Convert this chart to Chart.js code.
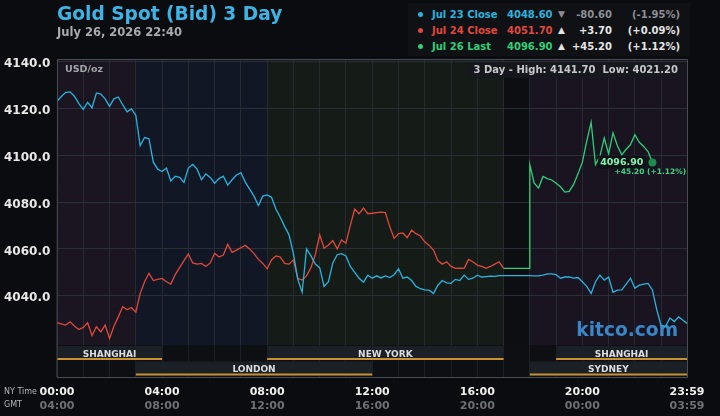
<!DOCTYPE html>
<html>
<head>
<meta charset="utf-8">
<script src="https://cdn.jsdelivr.net/npm/chart.js@4"></script>
<style>
  html, body { margin: 0; padding: 0; background: #0b0c0f; }
  body { width: 720px; height: 416px; position: relative; overflow: hidden; font-family: "DejaVu Sans", sans-serif; }
  #chart { position: absolute; left: 0; top: 0; }
  .txt { position: absolute; line-height: 1; white-space: nowrap; font-weight: bold; }
  .title { left: 57px; top: 5px; font-size: 18.6px; color: #3cb4e6; }
  .stamp { left: 57px; top: 27px; font-size: 11.5px; color: #a9abae; }
  .legendbox { position: absolute; left: 408px; top: 3px; width: 282px; height: 53px; background: #0f1114; }
  .dot { position: absolute; width: 5px; height: 5px; border-radius: 50%; }
  .small { position: absolute; font-size: 8px; color: #b4b6ba; line-height: 1; }
</style>
</head>
<body>
<canvas id="chart" width="720" height="416"></canvas>
<div class="txt title">Gold Spot (Bid) 3 Day</div>
<div class="txt stamp">July 26, 2026 22:40</div>
<div class="legendbox"></div>
<div id="legend"></div>
<div class="small" style="left:4px; top:388px;">NY Time</div>
<div class="small" style="left:4px; top:401px;">GMT</div>
<script>
// minutes after midnight NY time, one value every 10 minutes
const stepMin = 10;

// Jul 23 (blue), 00:00 .. 23:59
const jul23 = [
  4123.0, 4125.0, 4126.8, 4127.0, 4125.0, 4122.0, 4119.5, 4122.5, 4120.2, 4126.5,
  4126.0, 4124.0, 4120.8, 4124.0, 4124.8, 4121.5, 4118.5, 4119.7, 4117.0, 4104.0,
  4107.5, 4107.0, 4097.0, 4094.0, 4093.0, 4094.5, 4089.0, 4091.0, 4090.5, 4088.3,
  4094.5, 4096.0, 4094.0, 4089.5, 4092.0, 4090.5, 4088.0, 4090.0, 4091.0, 4087.2,
  4089.5, 4091.5, 4092.5, 4088.5, 4085.5, 4082.5, 4078.5, 4082.5, 4083.0, 4082.0,
  4077.0, 4073.5, 4069.5, 4066.0, 4058.0, 4047.0, 4041.5, 4060.0, 4057.0, 4053.5,
  4052.0, 4044.0, 4046.0, 4054.0, 4057.5, 4058.0, 4057.0, 4052.5, 4050.0, 4047.5,
  4045.8, 4048.8, 4047.5, 4048.5, 4047.6, 4048.5, 4047.8, 4049.0, 4051.5, 4047.5,
  4048.0, 4046.5, 4044.0, 4043.0, 4042.5, 4042.4, 4041.0, 4044.5, 4046.5, 4045.5,
  4045.3, 4047.0, 4046.5, 4048.8, 4047.0, 4047.5, 4048.8, 4048.0, 4048.2, 4048.4,
  4048.3, 4048.6, 4048.6, 4048.6, 4048.6, 4048.6, 4048.6, 4048.6, 4048.6, 4048.5,
  4048.5, 4048.8, 4049.3, 4049.3, 4049.0, 4047.5, 4048.0, 4048.1, 4047.5, 4047.8,
  4046.0, 4044.0, 4041.0, 4046.0, 4048.8, 4046.7, 4048.0, 4041.5, 4042.4, 4042.5,
  4045.0, 4047.5, 4043.2, 4044.5, 4045.0, 4045.3, 4042.5, 4034.0, 4027.2, 4027.0,
  4030.5, 4029.0, 4031.0, 4029.6, 4028.2
];

// Jul 24 (red), 00:00 .. 17:00
const jul24 = [
  4028.5, 4028.0, 4027.5, 4028.9, 4027.0, 4025.6, 4026.5, 4028.5, 4023.0, 4026.8,
  4024.6, 4027.5, 4021.8, 4027.0, 4031.0, 4035.3, 4034.0, 4035.0, 4033.0, 4041.0,
  4046.0, 4049.6, 4046.5, 4047.0, 4047.4, 4046.0, 4045.0, 4049.0, 4052.0, 4055.0,
  4057.8, 4054.0, 4053.5, 4053.8, 4052.5, 4054.0, 4058.1, 4056.5, 4057.4, 4062.0,
  4058.5, 4059.5, 4060.5, 4061.5, 4060.0, 4058.0, 4055.5, 4053.8, 4051.5, 4055.3,
  4057.0, 4056.5, 4053.8, 4053.5, 4055.3, 4047.4, 4046.7, 4048.5, 4052.0, 4057.5,
  4066.0, 4060.3, 4061.7, 4063.5, 4060.0, 4063.8, 4062.4, 4070.0, 4077.0, 4075.0,
  4077.4, 4075.0, 4075.2, 4075.5, 4075.7, 4075.5, 4069.5, 4064.5, 4066.5, 4066.8,
  4064.8, 4068.0, 4066.5, 4065.5, 4063.0, 4061.5, 4059.5, 4055.0, 4053.5, 4054.5,
  4052.5, 4051.7, 4051.8, 4051.7, 4055.5, 4054.5, 4053.1, 4052.5, 4051.7, 4052.5,
  4053.5, 4054.5, 4051.7
];

// Jul 26 (green): held at Friday's close through the break, then trading from 18:00
const jul26BreakMinutes = [1020, 1080];
const jul26BreakValues = [4051.7, 4051.7];
const jul26Start = 1080;
const jul26 = [
  4095.9, 4088.0, 4086.0, 4090.9, 4090.0, 4089.4, 4088.0, 4086.5, 4084.2, 4084.5,
  4087.5, 4092.0, 4097.0, 4106.0, 4114.0, 4096.0, 4099.5, 4107.3, 4100.5, 4109.5,
  4104.0, 4100.1, 4102.5, 4104.5, 4108.7, 4105.5, 4103.7, 4101.5, 4096.9
];

const yTicks = [4040, 4060, 4080, 4100, 4120, 4140];
const hourTicks = [0, 60, 120, 180, 240, 300, 360, 420, 480, 540, 600, 660, 720, 780,
  840, 900, 960, 1020, 1080, 1140, 1200, 1260, 1320, 1380, 1439];
const labelTicks = [0, 240, 480, 720, 960, 1200, 1439];
const gmtOffsetHours = 4;

// session rows under the plot (minutes NY time)
const sessionNames = [['SHANGHAI', 'NEW YORK', 'SHANGHAI'], ['LONDON', 'SYDNEY']];
const sessionFrom = [[0, 480, 1140], [180, 1080]];
const sessionTo = [[240, 1020, 1439], [720, 1439]];

// shaded backdrop periods
const zoneFrom = [0, 180, 480, 1020, 1080];
const zoneTo = [180, 480, 1020, 1080, 1439];
const zoneColors = ['#1a1520', '#121725', '#151c17', '#0d0e12', '#191420'];

const legendNames = ['Jul 23 Close', 'Jul 24 Close', 'Jul 26 Last'];
const legendValues = ['4048.60', '4051.70', '4096.90'];
const legendChanges = ['-80.60', '+3.70', '+45.20'];
const legendPcts = ['(-1.95%)', '(+0.09%)', '(+1.12%)'];
const highLow = ['4141.70', '4021.20'];
const lastLabel = ['4096.90', '+45.20 (+1.12%)'];

const colors = ['#2ab3df', '#e0483c', '#2fcf78'];

function toPoints(values, start) {
  return values.map((v, i) => ({ x: Math.min(start + i * stepMin, 1439), y: v }));
}
function hhmm(m) {
  const h = Math.floor(m / 60) % 24, mm = m % 60;
  return String(h).padStart(2, '0') + ':' + String(mm).padStart(2, '0');
}

// legend in the header
const legend = document.getElementById('legend');
legendNames.forEach((name, i) => {
  const top = 10 + i * 16;
  const up = legendChanges[i][0] === '+';
  const chgColor = up ? '#e4e4e4' : '#8d8f93';
  legend.insertAdjacentHTML('beforeend',
    `<div class="dot" style="left:418px;top:${top + 2}px;background:${colors[i]}"></div>` +
    `<div class="txt" style="left:432px;top:${top}px;font-size:10px;color:${colors[i]}">${name}</div>` +
    `<div class="txt" style="left:507px;top:${top}px;font-size:10px;color:${colors[i]}">${legendValues[i]}</div>` +
    `<div class="txt" style="left:558px;top:${top}px;font-size:9px;color:${chgColor}">${up ? '▲' : '▼'}</div>` +
    `<div class="txt" style="right:${720 - 612}px;top:${top}px;font-size:10px;color:${chgColor}">${legendChanges[i]}</div>` +
    `<div class="txt" style="right:${720 - 680}px;top:${top}px;font-size:10px;color:${chgColor}">${legendPcts[i]}</div>`);
});

const backdrop = {
  id: 'backdrop',
  beforeDraw(chart) {
    const { ctx, chartArea: a, scales: { x } } = chart;
    ctx.save();
    zoneFrom.forEach((f, i) => {
      const x0 = x.getPixelForValue(f), x1 = x.getPixelForValue(zoneTo[i]);
      ctx.fillStyle = zoneColors[i];
      ctx.fillRect(x0, a.top, x1 - x0, a.bottom - a.top);
    });
    ctx.fillStyle = '#0e0f13';
    ctx.fillRect(a.left, a.bottom, a.right - a.left, 32);
    ctx.restore();
  },
  beforeDatasetsDraw(chart) {
    const { ctx, chartArea: a } = chart;
    ctx.save();
    ctx.font = 'bold 18.6px "DejaVu Sans"';
    ctx.fillStyle = 'rgba(62, 146, 216, 0.9)';
    ctx.textAlign = 'right';
    ctx.textBaseline = 'alphabetic';
    ctx.fillText('kitco.com', a.right - 9, 336);
    ctx.restore();
  },
  afterDatasetsDraw(chart) {
    const { ctx, chartArea: a, scales: { x } } = chart;
    ctx.save();
    // session bars
    sessionNames.forEach((row, r) => {
      const top = a.bottom + r * 15.5;
      row.forEach((name, j) => {
        const x0 = x.getPixelForValue(sessionFrom[r][j]);
        const x1 = x.getPixelForValue(sessionTo[r][j]);
        ctx.fillStyle = '#1b1f26';
        ctx.fillRect(x0, top + 1, x1 - x0, 14);
        ctx.fillStyle = '#c89232';
        ctx.fillRect(x0, top + 13, x1 - x0, 2);
        ctx.fillStyle = '#dcdde0';
        ctx.font = 'bold 9px "DejaVu Sans"';
        ctx.textAlign = 'center';
        ctx.textBaseline = 'middle';
        ctx.fillText(name, (x0 + x1) / 2, top + 9.5);
      });
    });
    // frame
    ctx.strokeStyle = '#474b53';
    ctx.lineWidth = 1;
    ctx.beginPath();
    ctx.moveTo(a.left, a.top + 0.5); ctx.lineTo(a.right + 0.5, a.top + 0.5);
    ctx.lineTo(a.right + 0.5, a.bottom + 32.5); ctx.lineTo(a.left, a.bottom + 32.5);
    ctx.lineTo(a.left + 0.5, a.top);
    ctx.stroke();
    // unit and range notes
    ctx.font = 'bold 9.5px "DejaVu Sans"';
    ctx.fillStyle = '#a3a5a9';
    ctx.textAlign = 'left';
    ctx.textBaseline = 'middle';
    ctx.fillText('USD/oz', a.left + 8, a.top + 11);
    ctx.font = 'bold 10px "DejaVu Sans"';
    const hl = '3 Day - High: ' + highLow[0] + '  Low: ' + highLow[1];
    const w = ctx.measureText(hl).width;
    ctx.fillStyle = 'rgba(22, 24, 29, 0.95)';
    ctx.fillRect(a.right - w - 14, a.top + 3, w + 11, 16);
    ctx.fillStyle = '#c6c8cc';
    ctx.textAlign = 'right';
    ctx.fillText(hl, a.right - 9, a.top + 11);
    // last price marker
    const pts = chart.getDatasetMeta(2).data;
    const p = pts[pts.length - 1];
    ctx.beginPath();
    ctx.arc(p.x, p.y, 4, 0, Math.PI * 2);
    ctx.fillStyle = '#1c8d4c';
    ctx.fill();
    ctx.font = 'bold 9.5px "DejaVu Sans"';
    const lw = ctx.measureText(lastLabel[0]).width;
    ctx.fillStyle = 'rgba(14, 16, 20, 0.85)';
    ctx.fillRect(p.x - 11 - lw, p.y - 7, lw + 4, 13);
    ctx.fillStyle = '#86f0b4';
    ctx.textAlign = 'right';
    ctx.fillText(lastLabel[0], p.x - 9, p.y);
    ctx.font = 'bold 7.5px "DejaVu Sans"';
    ctx.fillStyle = '#3fd484';
    ctx.textAlign = 'left';
    ctx.fillText(lastLabel[1], p.x - 38, p.y + 10);
    ctx.restore();
  }
};

const tickFont = { family: 'DejaVu Sans', weight: 'bold', size: 11 };

new Chart(document.getElementById('chart'), {
  type: 'line',
  data: {
    datasets: [
      { label: 'Jul 23', data: toPoints(jul23, 0), borderColor: colors[0] },
      { label: 'Jul 24', data: toPoints(jul24, 0), borderColor: colors[1] },
      {
        label: 'Jul 26',
        data: jul26BreakMinutes.map((m, i) => ({ x: m, y: jul26BreakValues[i] }))
          .concat(toPoints(jul26, jul26Start)),
        borderColor: colors[2]
      }
    ]
  },
  options: {
    responsive: false,
    animation: false,
    events: [],
    layout: { padding: { left: 4, right: 33, top: 59, bottom: 3 } },
    elements: {
      point: { radius: 0 },
      line: { borderWidth: 1.3, tension: 0 }
    },
    plugins: { legend: { display: false }, tooltip: { enabled: false } },
    scales: {
      x: {
        type: 'linear', min: 0, max: 1439, weight: 0,
        afterBuildTicks: s => { s.ticks = hourTicks.map(v => ({ value: v })); },
        afterFit: s => { s.height = 54; },
        grid: { color: '#252931', drawTicks: true, tickLength: 33, tickColor: '#1c1f26' },
        border: { display: false },
        ticks: {
          autoSkip: false, maxRotation: 0, padding: 8, color: '#f0f0f0', font: tickFont,
          callback: v => labelTicks.includes(v) ? hhmm(v) : ''
        }
      },
      x2: {
        type: 'linear', position: 'bottom', min: 0, max: 1439, weight: 1,
        afterBuildTicks: s => { s.ticks = labelTicks.map(v => ({ value: v })); },
        afterFit: s => { s.height = 14; },
        grid: { display: false, drawTicks: false },
        border: { display: false },
        ticks: {
          autoSkip: false, maxRotation: 0, padding: 1, color: '#6d7075', font: tickFont,
          callback: v => hhmm(v + gmtOffsetHours * 60)
        }
      },
      y: {
        min: 4019, max: 4141,
        afterBuildTicks: s => { s.ticks = yTicks.map(v => ({ value: v })); },
        afterFit: s => { s.width = 53; },
        grid: { color: '#2a2e37', drawTicks: false },
        border: { display: false },
        ticks: {
          crossAlign: 'far', labelOffset: 2.5, color: '#e8e8e8',
          font: { family: 'DejaVu Sans', weight: 'bold', size: 12 },
          callback: v => v.toFixed(1)
        }
      }
    }
  },
  plugins: [backdrop]
});
</script>
</body>
</html>
